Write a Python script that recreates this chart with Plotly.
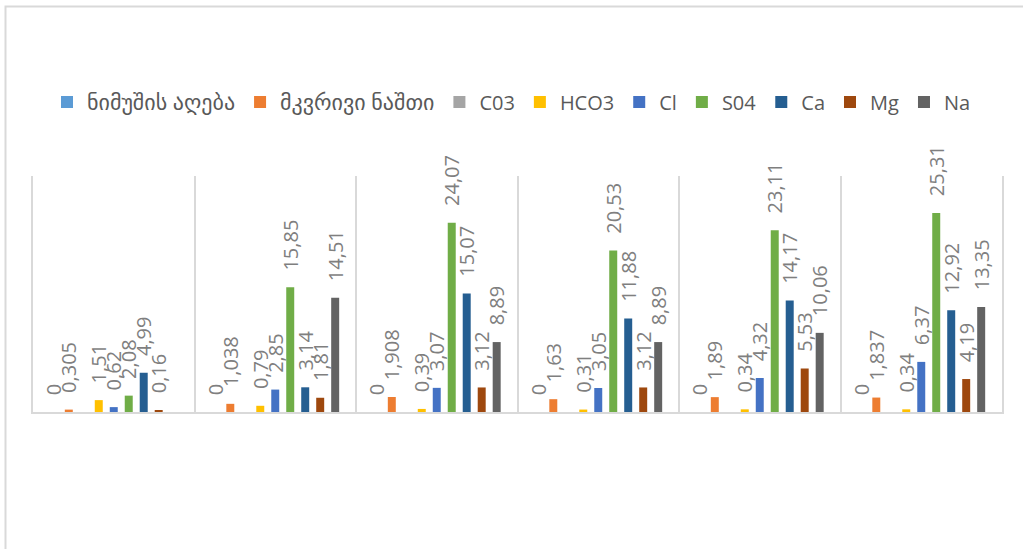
import plotly.graph_objects as go

categories = ["1", "2", "3", "4", "5", "6"]

series_names = ["ნიმუშის აღება", "მკვრივი ნაშთი", "C03", "HCO3", "Cl", "S04", "Ca", "Mg", "Na"]
series_colors = ["#5B9BD5", "#ED7D31", "#A5A5A5", "#FFC000", "#4472C4", "#70AD47", "#255E91", "#9E480E", "#636363"]

nimushis_agheba = [0, 0, 0, 0, 0, 0]
mkvrivi_nashti = [0.305, 1.038, 1.908, 1.63, 1.89, 1.837]
c03 = [None, None, None, None, None, None]
hco3 = [1.51, 0.79, 0.39, 0.31, 0.34, 0.34]
cl = [0.62, 2.85, 3.07, 3.05, 4.32, 6.37]
s04 = [2.08, 15.85, 24.07, 20.53, 23.11, 25.31]
ca = [4.99, 3.14, 15.07, 11.88, 14.17, 12.92]
mg = [0.16, 1.81, 3.12, 3.12, 5.53, 4.19]
na = [None, 14.51, 8.89, 8.89, 10.06, 13.35]

series_values = [nimushis_agheba, mkvrivi_nashti, c03, hco3, cl, s04, ca, mg, na]

LABEL_FONT = "Open Sans, DejaVu Sans, sans-serif"


def fmt(v):
    if v is None:
        return ""
    return "\u00a0\u00a0\u2009" + "{:g}".format(v).replace(".", ",")


def legend_name(name):
    # Georgian names are set a little larger to match the reference's glyph size
    if any("\u10a0" <= ch <= "\u10ff" for ch in name):
        return '<span style="font-size:22px">' + name + "</span>"
    return name


fig = go.Figure()
for name, color, vals in zip(series_names, series_colors, series_values):
    fig.add_trace(go.Bar(
        x=categories, y=vals, name=legend_name(name),
        marker=dict(color=color, line=dict(width=0)),
        text=[fmt(v) for v in vals],
        textposition="outside",
        textangle=-90,
        constraintext="none",
        cliponaxis=False,
        textfont=dict(family=LABEL_FONT, size=20, color="#7f7f7f"),
        hoverinfo="x+y+name",
    ))

fig.update_layout(
    width=1023, height=549,
    margin=dict(l=33, r=21, t=176, b=137, autoexpand=False),
    paper_bgcolor="white", plot_bgcolor="white",
    barmode="group", bargap=0.165, bargroupgap=0.467,
    font=dict(family=LABEL_FONT, color="#595959"),
    legend=dict(
        orientation="h", xref="container", yref="container",
        x=0.5, xanchor="center", y=(549 - 102) / 549, yanchor="middle",
        font=dict(family=LABEL_FONT, size=20, color="#595959"),
        itemclick=False, itemdoubleclick=False,
    ),
    xaxis=dict(
        type="category", showticklabels=False, tickson="boundaries",
        ticks="", showgrid=True, gridcolor="#d9d9d9", gridwidth=1.5,
        showline=True, linecolor="#d9d9d9", linewidth=1.5,
        range=[-0.5, 5.5],
    ),
    yaxis=dict(
        range=[0, 30], showticklabels=False, ticks="", showgrid=False,
        zeroline=False, showline=True, mirror=True,
        linecolor="#d9d9d9", linewidth=1.5,
    ),
    shapes=[dict(
        type="rect", xref="paper", yref="paper",
        x0=(5.5 - 33) / 969, x1=1.1,
        y0=-1.0, y1=1 + (176 - 6.5) / 236,
        line=dict(color="#d9d9d9", width=2), fillcolor="rgba(0,0,0,0)",
        layer="below",
    )],
)

fig.write_html("out.html")
